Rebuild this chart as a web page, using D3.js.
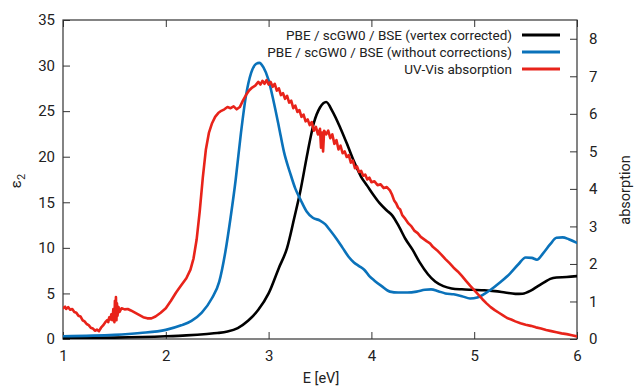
<!DOCTYPE html>
<html><head><meta charset="utf-8">
<script src="https://cdn.jsdelivr.net/npm/d3@7"></script>
<style>
html,body{margin:0;padding:0;background:#fff;}
svg text{font-family:Roboto,"Noto Sans",sans-serif;fill:#222;}
</style></head>
<body><svg id="c" width="635" height="388"></svg>
<script>
// ---- data ----
const xTicks = [1,2,3,4,5,6];
const leftTicks = [0,5,10,15,20,25,30,35];
const rightTicks = [0,1,2,3,4,5,6,7,8];
const seriesNames = ["PBE / scGW0 / BSE (vertex corrected)","PBE / scGW0 / BSE (without corrections)","UV-Vis absorption"];
const seriesColors = ["#000000","#0a72ba","#e8231a"];

const blackE = [1.0,1.5,2.0,2.2,2.4,2.5,2.6,2.7,2.8,2.9,3.0,3.1,3.18,3.25,3.31,3.38,3.44,3.5,3.56,3.62,3.7,3.77,3.83,3.9,3.96,4.02,4.08,4.15,4.2,4.27,4.33,4.4,4.47,4.55,4.62,4.7,4.78,4.88,4.98,5.1,5.2,5.3,5.4,5.47,5.55,5.62,5.68,5.74,5.8,5.9,6.0];
const blackEps = [0.1,0.15,0.3,0.4,0.55,0.65,0.82,1.2,2.0,3.2,5.0,7.8,10.0,13.3,16.3,20.5,23.7,25.4,26.0,25.0,23.1,21.2,19.5,17.8,16.8,15.8,14.9,14.1,13.6,12.3,11.0,9.8,8.4,7.1,6.3,5.8,5.55,5.45,5.4,5.35,5.25,5.1,4.95,4.97,5.3,5.8,6.2,6.6,6.75,6.8,6.9];

const blueE = [1.0,1.5,1.75,2.0,2.15,2.25,2.35,2.45,2.52,2.58,2.63,2.68,2.73,2.78,2.83,2.88,2.91,2.95,3.0,3.05,3.1,3.15,3.21,3.26,3.31,3.37,3.43,3.5,3.55,3.6,3.66,3.72,3.78,3.83,3.88,3.93,3.98,4.03,4.1,4.18,4.26,4.35,4.44,4.52,4.58,4.65,4.72,4.8,4.88,4.96,5.03,5.1,5.16,5.25,5.35,5.43,5.5,5.56,5.61,5.67,5.74,5.8,5.86,5.92,6.0];
const blueEps = [0.3,0.45,0.65,1.0,1.5,2.0,2.9,4.5,6.3,9.6,13.3,17.5,22.5,26.7,29.2,30.2,30.3,29.8,28.4,26.0,23.3,20.5,18.2,16.5,15.3,14.0,13.3,13.0,12.6,11.9,11.0,10.0,9.0,8.4,8.0,7.6,6.9,6.4,5.8,5.2,5.1,5.1,5.2,5.4,5.45,5.25,5.0,4.9,4.7,4.45,4.55,4.95,5.4,6.2,7.2,8.2,8.95,8.9,8.7,9.4,10.4,11.1,11.15,10.95,10.55];

const redE = [1.00,1.02,1.03,1.05,1.07,1.09,1.11,1.13,1.15,1.17,1.19,1.21,1.23,1.25,1.27,1.29,1.31,1.33,1.35,1.37,1.39,1.41,1.43,1.44,1.45,1.46,1.47,1.48,1.49,1.50,1.505,1.51,1.515,1.52,1.525,1.53,1.54,1.55,1.57,1.60,1.63,1.66,1.70,1.74,1.78,1.82,1.86,1.90,1.95,2.00,2.05,2.10,2.15,2.20,2.24,2.27,2.30,2.33,2.36,2.39,2.42,2.45,2.48,2.51,2.54,2.57,2.60,2.63,2.66,2.69,2.72,2.75,2.78,2.81,2.84,2.87,2.90,2.92,2.94,2.96,2.98,3.00,3.02,3.04,3.06,3.08,3.10,3.12,3.14,3.16,3.18,3.20,3.22,3.24,3.26,3.28,3.30,3.32,3.34,3.36,3.38,3.40,3.42,3.44,3.46,3.48,3.50,3.51,3.52,3.53,3.54,3.56,3.58,3.60,3.62,3.64,3.66,3.68,3.70,3.72,3.74,3.76,3.78,3.80,3.82,3.84,3.86,3.88,3.90,3.92,3.94,3.96,3.98,4.00,4.03,4.06,4.09,4.12,4.15,4.18,4.20,4.22,4.24,4.26,4.28,4.30,4.33,4.36,4.39,4.42,4.45,4.48,4.51,4.54,4.57,4.60,4.64,4.68,4.72,4.76,4.80,4.84,4.88,4.92,4.96,5.00,5.04,5.08,5.12,5.16,5.20,5.24,5.28,5.32,5.36,5.40,5.45,5.50,5.55,5.60,5.65,5.70,5.75,5.80,5.85,5.90,5.95,6.00];
const redAbs = [0.82,0.86,0.80,0.85,0.78,0.80,0.72,0.70,0.62,0.60,0.50,0.47,0.40,0.37,0.30,0.28,0.22,0.25,0.21,0.30,0.36,0.44,0.50,0.45,0.58,0.52,0.66,0.50,0.80,0.45,1.02,0.55,1.12,0.50,0.95,0.62,0.85,0.72,0.82,0.79,0.80,0.76,0.70,0.64,0.58,0.55,0.55,0.60,0.70,0.82,1.02,1.24,1.43,1.62,1.85,2.15,2.65,3.4,4.3,5.05,5.5,5.75,5.92,6.02,6.08,6.12,6.18,6.15,6.2,6.12,6.18,6.35,6.5,6.62,6.7,6.75,6.85,6.78,6.88,6.8,6.9,6.78,6.85,6.72,6.8,6.62,6.68,6.5,6.55,6.4,6.48,6.3,6.35,6.15,6.22,6.05,6.1,5.92,5.98,5.8,5.85,5.7,5.78,5.55,5.65,5.45,5.6,5.1,5.5,5.0,5.55,5.45,5.55,5.35,5.45,5.2,5.3,5.05,5.15,4.95,5.0,4.85,4.9,4.7,4.75,4.55,4.6,4.45,4.48,4.35,4.38,4.25,4.3,4.18,4.2,4.1,4.12,4.02,4.05,3.96,3.85,3.7,3.62,3.5,3.45,3.3,3.2,3.08,3.0,2.88,2.82,2.72,2.66,2.6,2.55,2.45,2.36,2.25,2.13,2.02,1.9,1.8,1.68,1.55,1.42,1.3,1.18,1.06,0.95,0.85,0.77,0.70,0.63,0.56,0.52,0.47,0.42,0.38,0.35,0.31,0.28,0.24,0.21,0.18,0.15,0.13,0.10,0.07];

// ---- layout ----
const L = 63, R = 577, T = 20, B = 339;
const svg = d3.select("#c");
const x = d3.scaleLinear().domain([1,6]).range([L,R]);
const yL = d3.scaleLinear().domain([0,35]).range([B,T]);
const yR = d3.scaleLinear().domain([0,8.5]).range([B,T]);
const axisCol = "#333";
const fs = "15px";

function style(g){
  g.select(".domain").remove();
  g.selectAll(".tick line").attr("stroke",axisCol).attr("stroke-width",1);
  g.selectAll(".tick text").style("font-size",fs).attr("fill","#222");
}
svg.append("g").attr("transform",`translate(0,${B})`)
  .call(d3.axisBottom(x).tickValues(xTicks).tickFormat(d3.format("d")).tickSizeInner(-7).tickSizeOuter(0).tickPadding(11)).call(style);
svg.append("g").attr("transform",`translate(0,${T})`)
  .call(d3.axisTop(x).tickValues(xTicks).tickFormat("").tickSizeInner(-7).tickSizeOuter(0)).call(style);
svg.append("g").attr("transform",`translate(${L},0)`)
  .call(d3.axisLeft(yL).tickValues(leftTicks).tickFormat(d3.format("d")).tickSizeInner(-7).tickSizeOuter(0).tickPadding(8)).call(style);
svg.append("g").attr("transform",`translate(${R},0)`)
  .call(d3.axisRight(yR).tickValues(rightTicks).tickFormat(d3.format("d")).tickSizeInner(-7).tickSizeOuter(0).tickPadding(12)).call(style);

svg.append("rect").attr("x",L).attr("y",T).attr("width",R-L).attr("height",B-T)
  .attr("fill","none").attr("stroke",axisCol).attr("stroke-width",1.2);

// ---- series ----
svg.append("clipPath").attr("id","pc").append("rect").attr("x",L).attr("y",T-2).attr("width",R-L).attr("height",B-T+2);
function draw(E,V,ys,col){
  const pts = E.map((e,i)=>[e,V[i]]);
  svg.append("path").attr("clip-path","url(#pc)")
    .attr("d", d3.line().x(d=>x(d[0])).y(d=>ys(d[1])).curve(d3.curveMonotoneX)(pts))
    .attr("fill","none").attr("stroke",col).attr("stroke-width",2.6)
    .attr("stroke-linejoin","round").attr("stroke-linecap","round");
}
draw(blackE,blackEps,yL,seriesColors[0]);
draw(blueE,blueEps,yL,seriesColors[1]);
function drawRaw(E,V,ys,col){
  const pts = E.map((e,i)=>[e,V[i]]);
  svg.append("path").attr("clip-path","url(#pc)")
    .attr("d", d3.line().x(d=>x(d[0])).y(d=>ys(d[1]))(pts))
    .attr("fill","none").attr("stroke",col).attr("stroke-width",2.6)
    .attr("stroke-linejoin","round").attr("stroke-linecap","round");
}
drawRaw(redE,redAbs,yR,seriesColors[2]);

// ---- legend ----
const lg = svg.append("g");
seriesNames.forEach((n,i)=>{
  const yy = 35 + i*17;
  lg.append("text").attr("x",512).attr("y",yy+4.5).attr("text-anchor","end").style("font-size","13.5px").text(n);
  lg.append("line").attr("x1",522).attr("x2",560).attr("y1",yy).attr("y2",yy)
    .attr("stroke",seriesColors[i]).attr("stroke-width",3);
});

// ---- axis labels ----
svg.append("text").attr("x",321).attr("y",383).attr("text-anchor","middle").style("font-size","14.5px").text("E [eV]");
const yl = svg.append("text").attr("transform","translate(21,181) rotate(-90)").attr("text-anchor","middle").style("font-size","15px");
yl.append("tspan").text("ε");
yl.append("tspan").attr("dy",4).style("font-size","11px").text("2");
svg.append("text").attr("transform","translate(630,190) rotate(-90)").attr("text-anchor","middle").style("font-size","14.5px").text("absorption");
</script></body></html>
